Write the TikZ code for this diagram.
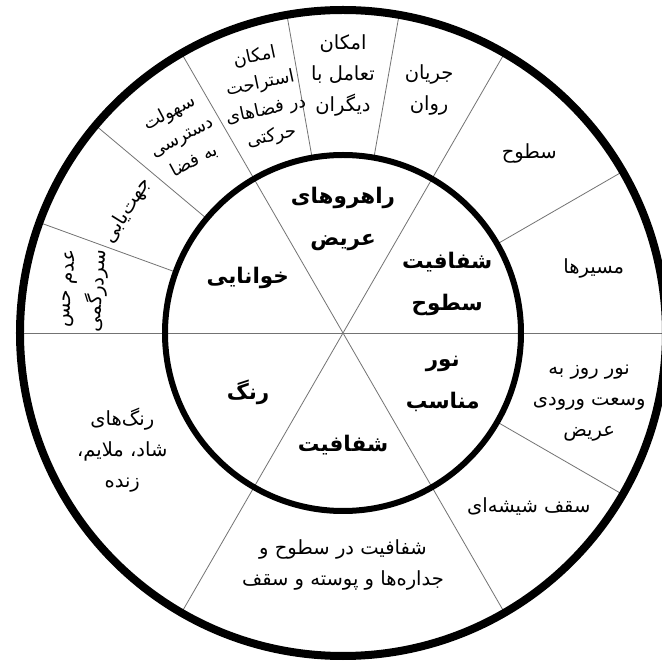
\documentclass[tikz,border=0pt]{standalone}
\usepackage{fontspec}
\newfontfamily\farsi[Script=Arabic]{DejaVu Sans}
\TeXXeTstate=1
\newcommand{\fa}[1]{\beginR #1\endR}

\begin{document}
\begin{tikzpicture}[x=1pt, y=1pt,
    ring/.style={draw, line width=8pt},
    hub/.style={draw, line width=6pt},
    spoke/.style={draw=black!55, line width=0.8pt},
    inlbl/.style={font=\farsi\bfseries\fontsize{21.5}{42}\selectfont, align=center},
    outlbl/.style={font=\farsi\fontsize{19.5}{31}\selectfont, align=center},
    outsmall/.style={font=\farsi\fontsize{18}{27}\selectfont, align=center}
]
\fill[white] (-343,-328) rectangle (319,333);
\useasboundingbox (-343,-328) rectangle (319,333);

% Spokes: three full diameters, then the outer ring only
\draw[spoke] (180:323) -- (0:323);
\draw[spoke] (60:323) -- (240:323);
\draw[spoke] (120:323) -- (300:323);
\draw[spoke] (30:178) -- (30:323);
\draw[spoke] (80:178) -- (80:323);
\draw[spoke] (100:178) -- (100:323);
\draw[spoke] (140:178) -- (140:323);
\draw[spoke] (160:178) -- (160:323);
\draw[spoke] (-30:178) -- (-30:323);

% Rings
\draw[hub] (0,0) circle (178);
\draw[ring] (0,0) circle (323);

% Inner labels
\node[inlbl] (corridor) at (90:114) {\fa{راهروهای}\\\fa{عریض}};
\node[inlbl] (surface) at (25:115) {\fa{شفافیت}\\\fa{سطوح}};
\node[inlbl] (legible) at (150:110) {\fa{خوانایی}};
\node[inlbl] (colour) at (212:112) {\fa{رنگ}};
\node[inlbl] (clear) at (270:112) {\fa{شفافیت}};
\node[inlbl] (light) at (-27:112) {\fa{نور}\\\fa{مناسب}};

% Outer labels
\node[outlbl] (meet) at (90:258) {\fa{امکان}\\\fa{تعامل با}\\\fa{دیگران}};
\node[outlbl] (flow) at (70.5:258) {\fa{جریان}\\\fa{روان}};
\node[outlbl] (planes) at (44:259) {\fa{سطوح}};
\node[outlbl] (paths) at (14.5:259) {\fa{مسیرها}};
\node[outlbl] (daylight) at (-15.9:256) {\fa{نور روز به}\\\fa{وسعت ورودی}\\\fa{عریض}};
\node[outlbl] (glass) at (-43:254) {\fa{سقف شیشه‌ای}};
\node[outlbl] (skin) at (-90:232) {\fa{شفافیت در سطوح و}\\\fa{جداره‌ها و پوسته و سقف}};
\node[outlbl] (tones) at (-152:250) {\fa{رنگ‌های}\\\fa{شاد، ملایم،}\\\fa{زنده}};
\node[outlbl, rotate=85] (lost) at (170.5:262) {\fa{عدم حس}\\\fa{سردرگمی}};
\node[outlbl, rotate=58] (wayfind) at (150.5:248) {\fa{جهت‌یابی}};
\node[outsmall, rotate=28] (access) at (129.4:254) {\fa{سهولت}\\\fa{دسترسی}\\\fa{به فضا}};
\node[outsmall, rotate=12] (rest) at (108.7:249) {\fa{امکان}\\\fa{استراحت}\\\fa{در فضاهای}\\\fa{حرکتی}};

\end{tikzpicture}
\end{document}
